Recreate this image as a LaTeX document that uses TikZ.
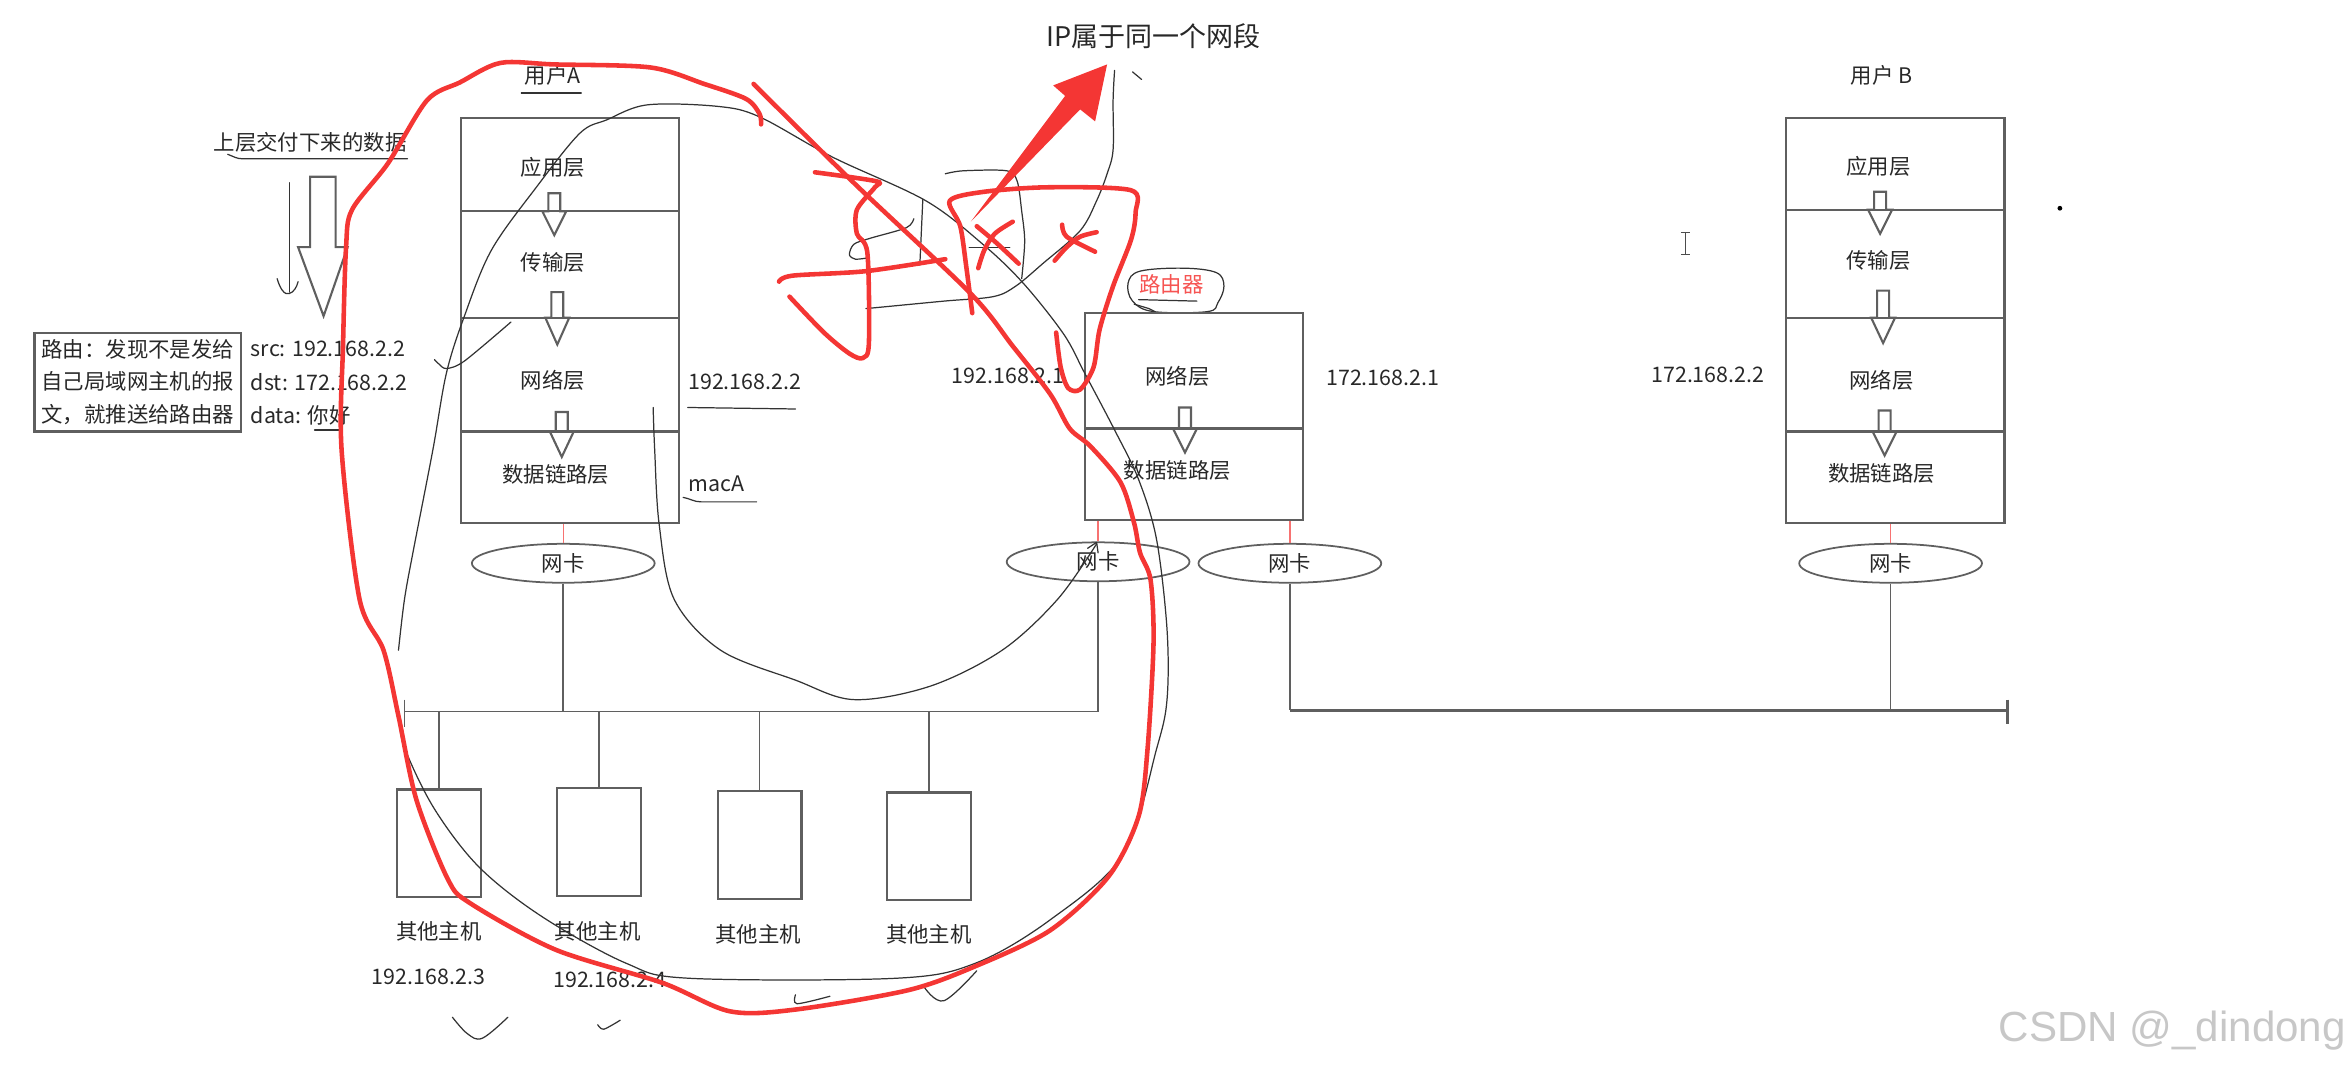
\documentclass[tikz,border=0pt]{standalone}
\usepackage{fontspec}
\setmainfont{Noto Sans CJK SC}
\newfontfamily\wmfont{Liberation Sans}
\usetikzlibrary{shapes.geometric}

\definecolor{penred}{RGB}{244,54,52}
\definecolor{lineg}{RGB}{95,95,95}
\definecolor{txt}{RGB}{40,40,40}
\newcommand\pxu{0.015cm}
% hollow down arrow: x, top, head start, tip
\newcommand\hollowdown[4]{%
  \draw[lyline] (#1-4,#2) -- (#1+4,#2) -- (#1+4,#3) -- (#1+8,#3) -- (#1,#4) -- (#1-8,#3) -- (#1-4,#3) -- cycle;}

\tikzset{
  lyline/.style={draw=lineg, line width=0.6pt},
  layer/.style={lyline, minimum width=146*\pxu, inner sep=0pt},
  lbl/.style={font=\fontsize{6.1}{7.3}\selectfont, text=txt, inner sep=0pt},
  nic/.style={ellipse, lyline, line width=0.5pt, minimum width=122*\pxu, minimum height=26*\pxu, lbl},
  host/.style={lyline, minimum width=56*\pxu, minimum height=72*\pxu, inner sep=0pt},
  wire/.style={lineg, line width=0.5pt},
  nicwire/.style={penred!70, line width=0.4pt},
  redpen/.style={penred, line width=1.3pt, line cap=round, line join=round},
  blackpen/.style={black!80, line width=0.35pt, line cap=round, line join=round},
}

\begin{document}
\begin{tikzpicture}[x=\pxu, y=-\pxu]
    \useasboundingbox (0,0) rectangle (1568,714);

    % title
    \node[font=\fontsize{7.7}{9}\selectfont, text=txt, inner sep=0pt] (title) at (770,24) {IP属于同一个网段};

    % user A stack
    \node[lbl] (userA) at (369,50) {用户A};
    \draw[blackpen] (348,62) -- (388,62);
    \node[layer, minimum height=62*\pxu] (aApp) at (380.5,110) {};
    \node[layer, minimum height=71*\pxu] (aTrans) at (380.5,176.5) {};
    \node[layer, minimum height=76*\pxu] (aNet) at (380.5,250) {};
    \node[layer, minimum height=61*\pxu] (aLink) at (380.5,318.5) {};
    \node[lbl] (aAppT) at (369,112) {应用层};
    \node[lbl] (aTransT) at (369,175) {传输层};
    \node[lbl] (aNetT) at (369,254) {网络层};
    \node[lbl] (aLinkT) at (371,317) {数据链路层};
    \hollowdown{370}{129}{141}{157}
    \hollowdown{372}{195}{212}{230}
    \hollowdown{375}{275}{288}{305}
    \node[lbl, anchor=west] (ipA) at (459,255) {192.168.2.2};
    \draw[blackpen] (459,272) -- (531,273);
    \node[lbl, anchor=west] (macA) at (459,323) {macA};
    \draw[blackpen] (456,332) to[out=-10,in=180] (468,335) -- (505,335);

    % data handed down
    \node[lbl] (upData) at (207,95) {上层交付下来的数据};
    \draw[blackpen] (152,103) to[out=-20,in=180] (162,106) -- (272,106);
    \draw[lyline] (207,118) -- (224,118) -- (224,165) -- (232,165) -- (216,211) -- (199,165) -- (207,165) -- cycle;
    \draw[blackpen] (193,122) -- (193,195);
    \draw[blackpen] (185,186) .. controls (187,193) and (190,197) .. (193,196) .. controls (196,195) and (198,192) .. (199,188);
    \node[lbl, draw=lineg, line width=0.6pt, align=left, minimum width=138*\pxu, minimum height=66*\pxu,
          font=\fontsize{6.1}{9.2}\selectfont] (routeNote) at (92,255) {路由：发现不是发给\\自己局域网主机的报\\文，就推送给路由器};
    \node[lbl, anchor=west] (src) at (167,233) {src: 192.168.2.2};
    \node[lbl, anchor=west] (dst) at (167,255) {dst: 172.168.2.2};
    \node[lbl, anchor=west] (payload) at (167,277) {data: 你好};
    \draw[blackpen] (210,287) -- (227,287);

    % router
    \node[lbl, text=penred!85] (routerT) at (782,190) {路由器};
    \draw[blackpen] plot[smooth cycle, tension=0.6] coordinates {(756,201) (753,189) (761,181) (790,179) (812,182) (817,191) (813,202) (806,208) (770,208)};
    \draw[blackpen] (757,203) -- (767,206) -- (771,208);
    \draw[blackpen] (760,200) -- (799,201);
    \node[layer, minimum height=77*\pxu] (rNet) at (797,247.5) {};
    \node[layer, minimum height=61*\pxu] (rLink) at (797,316.5) {};
    \node[lbl] (rNetT) at (786,251) {网络层};
    \node[lbl] (rLinkT) at (786,314) {数据链路层};
    \hollowdown{791}{272}{286}{302}
    \node[lbl] (ipR1) at (673,251) {192.168.2.1};
    \node[lbl] (ipR2) at (923,252) {172.168.2.1};

    % user B stack
    \node[lbl] (userB) at (1256,50) {用户 B};
    \node[layer, minimum height=61*\pxu] (bApp) at (1265,109.5) {};
    \node[layer, minimum height=72*\pxu] (bTrans) at (1265,176) {};
    \node[layer, minimum height=76*\pxu] (bNet) at (1265,250) {};
    \node[layer, minimum height=61*\pxu] (bLink) at (1265,318.5) {};
    \node[lbl] (bAppT) at (1254,111) {应用层};
    \node[lbl] (bTransT) at (1254,174) {传输层};
    \node[lbl] (bNetT) at (1256,254) {网络层};
    \node[lbl] (bLinkT) at (1256,316) {数据链路层};
    \hollowdown{1255}{128}{140}{156}
    \hollowdown{1257}{194}{212}{229}
    \hollowdown{1258}{274}{288}{304}
    \node[lbl] (ipB) at (1140,250) {172.168.2.2};
    \fill[black] (1375,139) circle (1.6);
    \draw[black!70, line width=0.4pt] (1125,155) -- (1125,170) (1122,155) -- (1128,155) (1122,170) -- (1128,170);

    % network cards
    \node[nic] (nicA) at (376,376) {网卡};
    \node[nic] (nicR1) at (733,375) {网卡};
    \node[nic] (nicR2) at (861,376) {网卡};
    \node[nic] (nicB) at (1262,376) {网卡};
    \draw[nicwire] (nicA.north |- aLink.south) -- (nicA.north);
    \draw[nicwire] (nicR1.north |- rLink.south) -- (nicR1.north);
    \draw[nicwire] (nicR2.north |- rLink.south) -- (nicR2.north);
    \draw[nicwire] (nicB.north |- bLink.south) -- (nicB.north);

    % buses
    \coordinate (busA) at (270,475);
    \coordinate (busB) at (1340,474);
    \draw[wire] (busA) -- (nicR1.south |- busA) -- (nicR1.south);
    \draw[wire] (270,467) -- (270,485);
    \draw[wire] (nicA.south) -- (nicA.south |- busA);
    \draw[wire, line width=0.9pt] (nicR2.south |- busB) -- (busB);
    \draw[wire] (nicR2.south) -- (nicR2.south |- busB);
    \draw[wire] (nicB.south) -- (nicB.south |- busB);
    \draw[wire, line width=0.9pt] (1340,467) -- (1340,483);

    % other hosts
    \node[host] (h1) at (293,563) {};
    \node[host] (h2) at (400,562) {};
    \node[host] (h3) at (507,564) {};
    \node[host] (h4) at (620,565) {};
    \foreach \h in {h1,h2,h3,h4}
        \draw[wire] (\h.north) -- (\h.north |- busA);
    \node[lbl] (h1T) at (293,622) {其他主机};
    \node[lbl] (h2T) at (399,622) {其他主机};
    \node[lbl] (h3T) at (506,624) {其他主机};
    \node[lbl] (h4T) at (620,624) {其他主机};
    \node[lbl] (h1ip) at (286,652) {192.168.2.3};
    \node[lbl] (h2ip) at (407,654) {192.168.2.4};

    % pen notes, black
    \draw[blackpen] plot[smooth, tension=0.55] coordinates {(266,434) (270,400) (276,367) (289,300) (298,249) (310,211) (328,167) (358,125) (387,89) (405,80) (432,70) (479,71) (507,78) (556,105) (618,134) (656,163) (683,189) (710,223) (724,249) (744,287) (760,320) (772,360) (779,420) (779,467) (772,500) (750,570) (701,614) (651,643) (598,653) (460,653) (418,643) (362,612) (320,579) (290,540) (270,499) (266,476)};
    \draw[blackpen] plot[smooth, tension=0.55] coordinates {(436,272) (437,300) (440,350) (450,400) (481,434) (531,454) (570,467) (621,458) (669,434) (706,400) (732,363)};
    \draw[blackpen] (726,366) -- (732,362) -- (733,369);
    \draw[blackpen] plot[smooth, tension=0.55] coordinates {(744,47) (743,67) (743,100) (739,116) (732,134) (721,154) (696,176) (678,191) (663,198) (630,201) (578,206)};
    \draw[blackpen] (756,48) -- (762,53);
    \draw[blackpen] plot[smooth, tension=0.5] coordinates {(631,116) (643,114) (672,114) (679,121) (682,141) (684,161) (682,186)};
    \draw[blackpen] (616,133) -- (614,177);
    \draw[blackpen] plot[smooth, tension=0.5] coordinates {(610,146) (605,152) (581,159) (570,163) (567,170) (571,173) (580,172)};
    \draw[blackpen] (647,165) -- (674,165);
    \draw[blackpen] plot[smooth, tension=0.5] coordinates {(290,240) (293,243) (298,246) (310,241) (341,215)};
    \draw[blackpen] plot[smooth, tension=0.6] coordinates {(302,679) (312,690) (322,693) (339,679)};
    \draw[blackpen] plot[smooth, tension=0.5] coordinates {(399,684) (403,687) (414,681)};
    \draw[blackpen] plot[smooth, tension=0.5] coordinates {(531,664) (532,670) (554,665)};
    \draw[blackpen] plot[smooth, tension=0.6] coordinates {(617,659) (630,668) (652,648)};

    % pen notes, red
    \draw[redpen] plot[smooth, tension=0.5] coordinates {(508,83) (507,76) (498,66) (470,56) (434,45) (370,43) (334,42) (307,55) (285,67) (259,109) (235,140) (231,165) (229,230) (228,300) (240,400) (256,434) (266,478) (278,534) (299,587) (314,603) (371,634) (442,656) (487,675) (530,674) (606,661) (651,645) (701,621) (740,585) (760,545) (766,500) (770,429) (768,387) (761,369) (757,349) (748,322) (728,298) (714,286) (701,263) (676,231) (648,196) (573,125) (514,67) (503,56)};
    \draw[redpen] plot[smooth, tension=0.5] coordinates {(649,209) (645,178) (641,151) (634,134) (657,128) (700,125) (755,127) (758,142) (755,160) (743,191) (734,220) (730,245) (721,260) (713,259) (708,245) (705,222)};
    \draw[redpen] plot[smooth, tension=0.5] coordinates {(652,151) (665,162) (680,176)};
    \draw[redpen] plot[smooth, tension=0.5] coordinates {(676,148) (664,156) (657,167) (653,179)};
    \draw[redpen] plot[smooth, tension=0.5] coordinates {(709,150) (712,158) (731,168)};
    \draw[redpen] plot[smooth, tension=0.5] coordinates {(732,155) (721,158) (712,165) (704,174)};
    \draw[redpen] plot[smooth, tension=0.5] coordinates {(520,188) (529,184) (578,181) (631,173)};
    \draw[redpen] plot[smooth, tension=0.5] coordinates {(544,115) (585,121) (584,125) (572,140) (572,156) (579,169) (580,229) (576,239) (567,236) (550,222) (527,198)};
    \fill[penred] (648,148) -- (711,64) -- (703,57) -- (739,43) -- (731,81) -- (721,73) -- cycle;

    % watermark
    \node[font=\wmfont\fontsize{12}{14}\selectfont, text=black!22, inner sep=0pt] (mark) at (1450,688) {CSDN @\_dindong};
\end{tikzpicture}
\end{document}
